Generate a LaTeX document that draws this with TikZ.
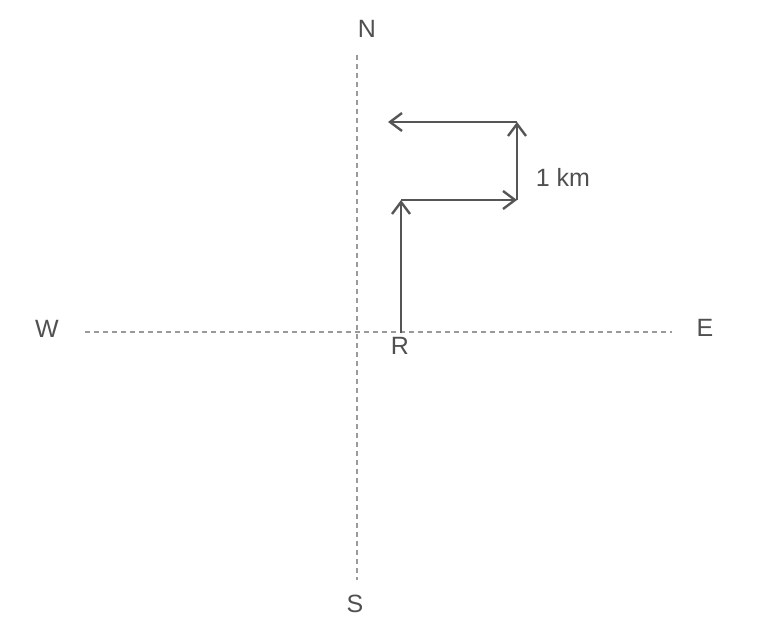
\documentclass[tikz,border=0pt]{standalone}
\usepackage{fontspec}
\setmainfont{Liberation Sans}
\usetikzlibrary{arrows.meta}
\definecolor{arr}{HTML}{555555}
\definecolor{axis}{HTML}{9A9A9A}
\definecolor{txt}{HTML}{505050}
\begin{document}
\begin{tikzpicture}[x=1pt,y=-1pt,
  axisline/.style={axis,line width=1.2pt,dash pattern=on 5pt off 4pt},
  vec/.style={arr,line width=2.8pt,-{Straight Barb[length=12pt,width=18pt,line width=2.4pt]}},
  lbl/.style={txt,font=\fontsize{25}{28}\selectfont,inner sep=0pt}]
\useasboundingbox (0,0) rectangle (783,623);
\coordinate (nt) at (357,55);
\coordinate (sb) at (357,580);
\coordinate (wl) at (85,332);
\coordinate (er) at (672,332);
\draw[axisline] (nt) -- (sb);
\draw[axisline] (wl) -- (er);
\node[lbl] (N) at (367,29) {N};
\node[lbl] (S) at (355,604) {S};
\node[lbl] (W) at (47,329) {W};
\node[lbl] (E) at (705,328) {E};
\node[lbl] (R) at (400,346) {R};
\node[lbl] (km) at (563,177) {1 km};
\coordinate (p0) at (401,333);
\coordinate (p1) at (401,200);
\coordinate (p2) at (517,200);
\coordinate (p3) at (517,122);
\coordinate (p4) at (388,122);
\draw[vec] (p0) -- (p1);
\draw[vec] (p1) -- (p2);
\draw[vec] (p2) -- (p3);
\draw[vec] (p3) -- (p4);
\end{tikzpicture}
\end{document}
